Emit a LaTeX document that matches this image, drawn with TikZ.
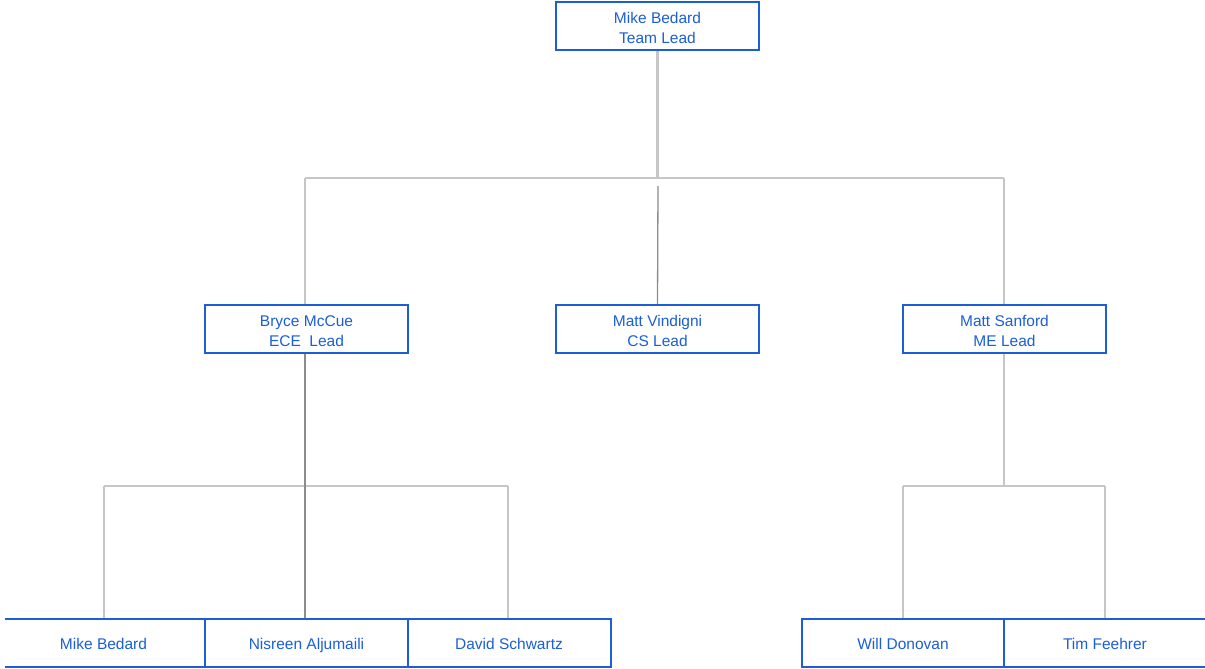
\documentclass[tikz,border=0pt]{standalone}
\usepackage{fontspec}
\setmainfont{Liberation Sans}
\definecolor{boxblue}{HTML}{1A5FD8}
\definecolor{linkgray}{HTML}{C6C6C6}
\definecolor{stemgray}{HTML}{8C8C8C}
% invisible strut that lowers two-line labels a little inside their boxes
\newcommand\padtop{\rule{0pt}{15.5pt}}
\begin{document}
\begin{tikzpicture}[x=1pt,y=-1pt,
  person/.style={draw=boxblue, line width=2pt, text=boxblue, fill=white,
    minimum width=203pt, minimum height=48pt, inner sep=0pt, align=center,
    font=\fontsize{15.5}{20}\selectfont},
  member/.style={person, text height=13pt, text depth=1pt},
  link/.style={draw=linkgray, line width=2.6pt},
  stem/.style={draw=stemgray, line width=1.3pt}]
\useasboundingbox (0,0) rectangle (1205,669);
\clip (5,0) rectangle (1205,669);

% connector junctions
\coordinate (topbar) at (657.5,178);
\coordinate (topL) at (305,178);
\coordinate (topR) at (1004,178);
\coordinate (cstart) at (658,186);
\coordinate (lbarL) at (104,486);
\coordinate (lbarM) at (305,486);
\coordinate (lbarR) at (508,486);
\coordinate (rbarM) at (1004,486);
\coordinate (rbarL) at (903,486);
\coordinate (rbarR) at (1105,486);

% lines drawn first so boxes sit above them
\draw[link] (657.5,50) -- (topbar);
\draw[link] (topL) -- (topR);
\draw[link] (topL) -- (305,305);
\draw[link] (topR) -- (1004,305);
\draw[stem] (cstart) -- (657.5,305);

\draw[link] (lbarL) -- (lbarR);
\draw[link] (lbarL) -- (104,619);
\draw[link] (lbarR) -- (508,619);
\draw[stem] (305,353) -- (305,619);

\draw[link] (1004,353) -- (rbarM);
\draw[link] (rbarL) -- (rbarR);
\draw[link] (rbarL) -- (903,619);
\draw[link] (rbarR) -- (1105,619);

% people
\node[person] (lead) at (657.5,26) {\padtop Mike Bedard\\Team Lead};
\node[person] (ece) at (306.5,329) {\padtop Bryce McCue\\ECE~ Lead};
\node[person] (cs) at (657.5,329) {\padtop Matt Vindigni\\CS Lead};
\node[person] (me) at (1004.5,329) {\padtop Matt Sanford\\ME Lead};

\node[member] (m1) at (103.5,643) {Mike Bedard};
\node[member] (m2) at (306.5,643) {Nisreen Aljumaili};
\node[member] (m3) at (509,643) {David Schwartz};
\node[member] (m4) at (903,643) {Will Donovan};
\node[member] (m5) at (1105,643) {Tim Feehrer};
\end{tikzpicture}
\end{document}
